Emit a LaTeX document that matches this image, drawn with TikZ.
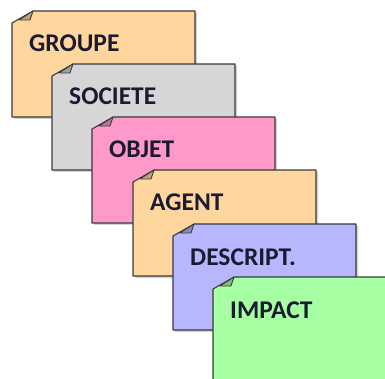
\documentclass[tikz,border=0pt]{standalone}
\usepackage{fontspec}
\setmainfont{Carlito}
\definecolor{cgroupe}{HTML}{FFD79E}
\definecolor{csociete}{HTML}{D6D6D6}
\definecolor{cobjet}{HTML}{FF99C9}
\definecolor{cagent}{HTML}{FFD79E}
\definecolor{cdescr}{HTML}{B7B7FF}
\definecolor{cimpact}{HTML}{A6FFA3}
\definecolor{edge}{HTML}{3A3A3A}
\definecolor{txt}{HTML}{1A1A30}
\tikzset{
  notebody/.style={draw=edge, line width=1.1pt, line join=round},
  notelabel/.style={anchor=base west, inner sep=0pt, font=\fontsize{25.5}{30}\selectfont\bfseries, text=txt},
}
\newcommand\notebox[4]{% name, left, top, color, text follows
  \fill[black!35, opacity=0.5] ({#2+2},{#3+14}) -- ({#2+23},{#3+2}) -- ({#2+185},{#3+2}) -- ({#2+185},{#3+108}) -- ({#2+2},{#3+108}) -- cycle;
  \filldraw[notebody, fill=#4] ({#2},{#3+12}) -- ({#2+21},{#3}) -- ({#2+183},{#3}) -- ({#2+183},{#3+106}) -- ({#2},{#3+106}) -- cycle;
  \filldraw[draw=edge, line width=0.8pt, line join=round, fill=#4!75!black] ({#2+7},{#3+9}) -- ({#2+21},{#3}) -- ({#2+18},{#3+9}) -- cycle;
  \node[notelabel] (#1) at ({#2+17},{#3+41})}
\begin{document}
\begin{tikzpicture}[x=1pt,y=-1pt]
\useasboundingbox (0,0) rectangle (385,379);
\begin{scope}
\clip (0,0) rectangle (385,379);
\notebox{groupe}{12}{11}{cgroupe} {GROUPE};
\notebox{societe}{52}{64}{csociete} {SOCIETE};
\notebox{objet}{92}{117}{cobjet} {OBJET};
\notebox{agent}{133}{170}{cagent} {AGENT};
\notebox{descr}{173}{224}{cdescr} {DESCRIPT.};
\notebox{impact}{213}{277}{cimpact} {IMPACT};
\end{scope}
\end{tikzpicture}
\end{document}
